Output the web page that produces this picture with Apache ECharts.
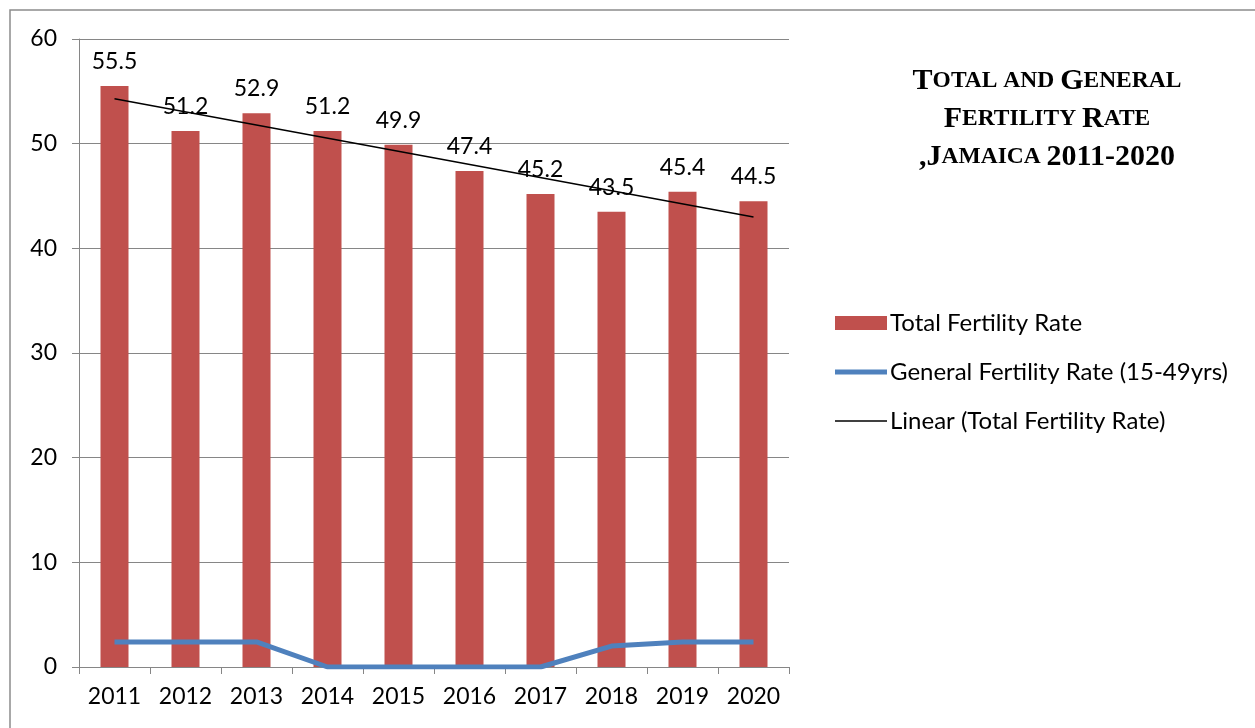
<!DOCTYPE html>
<html>
<head>
<meta charset="utf-8">
<script src="https://cdn.jsdelivr.net/npm/echarts@6/dist/echarts.min.js"></script>
<style>
  html, body { margin: 0; padding: 0; background: #fff; }
  #chart { width: 1255px; height: 728px; }
</style>
</head>
<body>
<div id="chart"></div>
<script>
// data
var years = ["2011", "2012", "2013", "2014", "2015", "2016", "2017", "2018", "2019", "2020"];
var totalRate = [55.5, 51.2, 52.9, 51.2, 49.9, 47.4, 45.2, 43.5, 45.4, 44.5];
var generalRate = [2.4, 2.4, 2.4, 0, 0, 0, 0, 2.0, 2.4, 2.4];
var trendEnds = [54.3, 43.0]; // linear trend at 2011 and 2020
var yTicks = { min: 0, max: 60, interval: 10 };

var chart = echarts.init(document.getElementById("chart"));
var font = "Lato";

var option = {
  animation: false,
  backgroundColor: "#fff",
  textStyle: { fontFamily: font },
  graphic: [
    {
      type: "rect",
      shape: { x: 10, y: 10, width: 1300, height: 800 },
      style: { fill: "none", stroke: "#8c8c8c", lineWidth: 1.5 },
      silent: true
    }
  ],
  title: {
    left: 1042,
    top: 57,
    textAlign: "center",
    text: "{b|T}{s|OTAL AND }{b|G}{s|ENERAL}\n{b|F}{s|ERTILITY }{b|R}{s|ATE}\n{b|,J}{s|AMAICA }{b|2011-2020}",
    textStyle: {
      fontFamily: "Liberation Serif",
      fontWeight: "bold",
      lineHeight: 38,
      rich: {
        b: { fontFamily: "Liberation Serif", fontWeight: "bold", fontSize: 30, color: "#000", lineHeight: 38 },
        s: { fontFamily: "Liberation Serif", fontWeight: "bold", fontSize: 23.5, color: "#000", lineHeight: 38 }
      }
    }
  },
  legend: {
    orient: "vertical",
    left: 830,
    top: 306,
    itemWidth: 52,
    itemHeight: 14,
    itemGap: 25,
    textStyle: { fontFamily: font, fontSize: 24, color: "#000", padding: [0, 0, 0, -2] },
    data: [
      { name: "Total Fertility Rate", icon: "rect" },
      { name: "General Fertility Rate (15-49yrs)", icon: "path://M0,0H52V5H0Z" },
      { name: "Linear (Total Fertility Rate)", icon: "path://M0,0H52V1.5H0Z" }
    ]
  },
  grid: { left: 79, top: 39, width: 710, height: 628, containLabel: false },
  xAxis: {
    type: "category",
    data: years,
    axisLine: { lineStyle: { color: "#868686", width: 1 } },
    axisTick: { show: true, length: 7, lineStyle: { color: "#868686" } },
    axisLabel: { color: "#000", fontFamily: font, fontSize: 23, margin: 18 }
  },
  yAxis: {
    type: "value",
    min: yTicks.min,
    max: yTicks.max,
    interval: yTicks.interval,
    axisLine: { show: true, lineStyle: { color: "#868686", width: 1 } },
    axisTick: { show: true, length: 7, lineStyle: { color: "#868686" } },
    axisLabel: { color: "#000", fontFamily: font, fontSize: 23, margin: 22 },
    splitLine: { lineStyle: { color: "#868686", width: 1 } }
  },
  series: [
    {
      name: "Total Fertility Rate",
      type: "bar",
      data: totalRate,
      barWidth: 28,
      itemStyle: { color: "#C0504D" },
      label: {
        show: true,
        position: "top",
        distance: 13,
        color: "#000",
        fontFamily: font,
        fontSize: 23
      },
      z: 2
    },
    {
      name: "General Fertility Rate (15-49yrs)",
      type: "line",
      data: generalRate,
      symbol: "none",
      lineStyle: { color: "#4F81BD", width: 5 },
      itemStyle: { color: "#4F81BD" },
      z: 3
    },
    {
      name: "Linear (Total Fertility Rate)",
      type: "line",
      data: [],
      symbol: "none",
      lineStyle: { color: "#000", width: 1.5 },
      itemStyle: { color: "#000" },
      markLine: {
        silent: true,
        symbol: "none",
        label: { show: false },
        lineStyle: { color: "#000", width: 1.5, type: "solid" },
        data: [[
          { coord: [years[0], trendEnds[0]] },
          { coord: [years[years.length - 1], trendEnds[1]] }
        ]]
      },
      z: 4
    }
  ]
};

chart.setOption(option);
</script>
</body>
</html>
